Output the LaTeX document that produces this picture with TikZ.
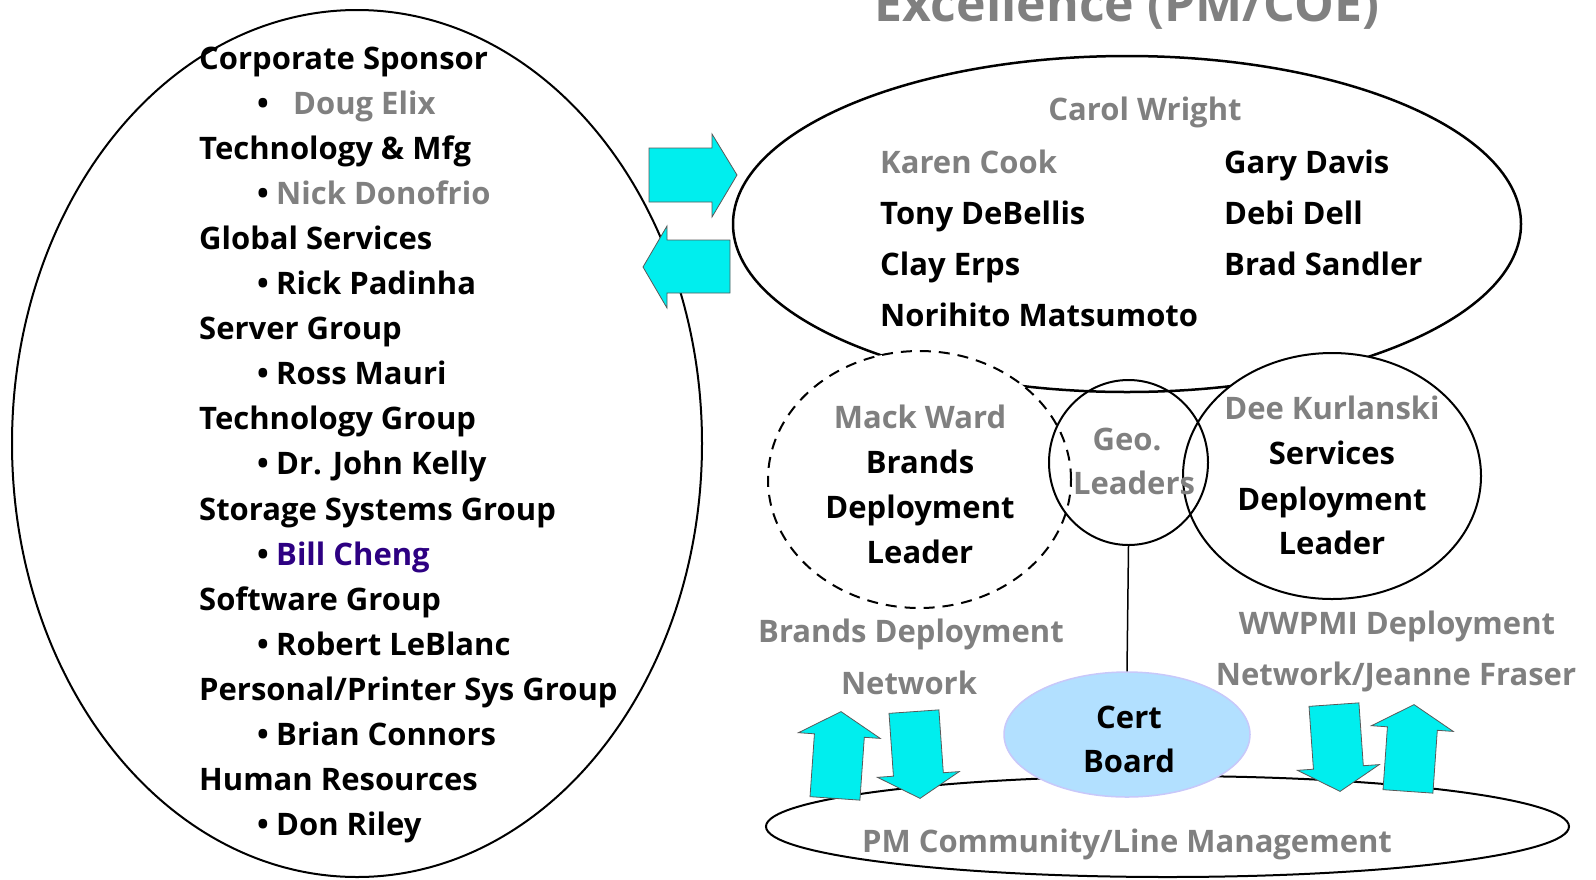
\documentclass[tikz,border=0pt]{standalone}
\usepackage{fontspec}
\usetikzlibrary{shapes.geometric}
\newfontfamily\cfont{Open Sans}
\definecolor{gry}{RGB}{128,128,128}
\definecolor{billc}{RGB}{45,0,130}
\definecolor{cy}{RGB}{0,238,238}
\definecolor{certfill}{RGB}{178,224,255}
\definecolor{certline}{RGB}{200,200,250}
\begin{document}
\begin{tikzpicture}[x=1pt,y=-1pt,
  lbl/.style={font=\cfont\bfseries\fontsize{31}{36}\selectfont, inner sep=0pt},
  lw/.style={lbl,anchor=base west},
  cc/.style={lbl,anchor=base},
  bul/.style={lbl,anchor=base},
  ell/.style={ellipse, draw, inner sep=0pt, line width=2pt},
  arr/.style={fill=cy, draw=black!65, line width=0.8pt, line join=miter},
  uparr/.pic={\path[arr] (0,-43.5) -- (41,-19.5) -- (25,-19.5) -- (25,43.5) -- (-25,43.5) -- (-25,-19.5) -- (-41,-19.5) -- cycle;},
  dnarr/.pic={\path[arr] (0,43.5) -- (41,19.5) -- (25,19.5) -- (25,-43.5) -- (-25,-43.5) -- (-25,19.5) -- (-41,19.5) -- cycle;}
]
\useasboundingbox (0,0) rectangle (1596,879);

% ---- shapes ----
\node[ell, minimum width=690pt, minimum height=867pt] (sponsor) at (357,443.5) {};
\node[ell, line width=2.5pt, minimum width=788pt, minimum height=336pt] (coe) at (1127,224) {};
\node[ell, dash pattern=on 11pt off 8pt, fill=white, minimum width=303pt, minimum height=257pt] (brands) at (919.5,479.5) {};
\node[ell, fill=white, minimum width=298pt, minimum height=246pt] (services) at (1332,476) {};
\node[ell, minimum width=159pt, minimum height=165pt] (geo) at (1128.5,462.5) {};
\node[ell, minimum width=803pt, minimum height=101pt] (pmc) at (1167.5,826.5) {};
\node[ellipse, inner sep=0pt, fill=certfill, draw=certline, line width=1.5pt, minimum width=246pt, minimum height=125pt] (cert) at (1127,734.5) {};
\draw[line width=1.5pt] (geo.south) -- (cert.north);

% ---- top cyan arrows ----
\path[arr] (649,148) -- (712,148) -- (712,134) -- (737,175) -- (712,217) -- (712,202) -- (649,202) -- cycle;
\path[arr] (730,240) -- (667,240) -- (667,226) -- (643,267) -- (667,308) -- (667,293) -- (730,293) -- cycle;

% ---- bottom cyan arrows ----
\pic[rotate=-4] at (838,755) {uparr};
\pic[rotate=4] at (917,755) {dnarr};
\pic[rotate=4] at (1337,748) {dnarr};
\pic[rotate=-4] at (1411,748) {uparr};

% ---- title ----
\node[font=\cfont\bfseries\fontsize{50}{56}\selectfont, text=gry, anchor=base, inner sep=0pt] (title) at (1127,21) {Excellence (PM/COE)};

% ---- left column ----
\node[lw] (h1) at (199,69) {Corporate Sponsor};
\node[bul] (b1) at (263,114.1) {•};
\node[lw, text=gry] (n1) at (293,114.1) {Doug Elix};
\node[lw] (h2) at (199,159.2) {Technology \& Mfg};
\node[bul] (b2) at (263,204.3) {•};
\node[lw, text=gry] (n2) at (276,204.3) {Nick Donofrio};
\node[lw] (h3) at (199,249.4) {Global Services};
\node[bul] (b3) at (263,294.5) {•};
\node[lw] (n3) at (276,294.5) {Rick Padinha};
\node[lw] (h4) at (199,339.6) {Server Group};
\node[bul] (b4) at (263,384.7) {•};
\node[lw] (n4) at (276,384.7) {Ross Mauri};
\node[lw] (h5) at (199,429.8) {Technology Group};
\node[bul] (b5) at (263,474.9) {•};
\node[lw] (n5) at (276,474.9) {Dr. John Kelly};
\node[lw] (h6) at (199,520) {Storage Systems Group};
\node[bul] (b6) at (263,565.1) {•};
\node[lw, text=billc] (n6) at (276,565.1) {Bill Cheng};
\node[lw] (h7) at (199,610.2) {Software Group};
\node[bul] (b7) at (263,655.3) {•};
\node[lw] (n7) at (276,655.3) {Robert LeBlanc};
\node[lw] (h8) at (199,700.4) {Personal/Printer Sys Group};
\node[bul] (b8) at (263,745.5) {•};
\node[lw] (n8) at (276,745.5) {Brian Connors};
\node[lw] (h9) at (199,790.6) {Human Resources};
\node[bul] (b9) at (263,835.7) {•};
\node[lw] (n9) at (276,835.7) {Don Riley};

% ---- COE ellipse ----
\node[cc, text=gry] (carol) at (1145,120) {Carol Wright};
\node[lw, text=gry] (karen) at (880,173) {Karen Cook};
\node[lw] (tony) at (880,224) {Tony DeBellis};
\node[lw] (clay) at (880,275) {Clay Erps};
\node[lw] (nori) at (880,326) {Norihito Matsumoto};
\node[lw] (gary) at (1224,173) {Gary Davis};
\node[lw] (debi) at (1224,224) {Debi Dell};
\node[lw] (brad) at (1224,275) {Brad Sandler};

% ---- brands ----
\node[cc, text=gry] (mack) at (920,428) {Mack Ward};
\node[cc] (br1) at (920,473) {Brands};
\node[cc] (br2) at (920,518) {Deployment};
\node[cc] (br3) at (920,563) {Leader};

% ---- geo ----
\node[cc, text=gry] (geo1) at (1127,450) {Geo.};
\node[cc, text=gry] (geo2) at (1134,494) {Leaders};

% ---- services ----
\node[cc, text=gry] (dee) at (1332,419) {Dee Kurlanski};
\node[cc] (sv1) at (1332,464) {Services};
\node[cc] (sv2) at (1332,510) {Deployment};
\node[cc] (sv3) at (1332,554) {Leader};

% ---- cert ----
\node[cc] (cert1) at (1129,728) {Cert};
\node[cc] (cert2) at (1129,772) {Board};

% ---- networks ----
\node[cc, text=gry] (bdn1) at (911,642) {Brands Deployment};
\node[cc, text=gry] (bdn2) at (909,694) {Network};
\node[cc, text=gry] (ww1) at (1397,634) {WWPMI Deployment};
\node[cc, text=gry] (ww2) at (1396,685) {Network/Jeanne Fraser};

\node[cc, text=gry] (pmtext) at (1127,852) {PM Community/Line Management};
\end{tikzpicture}
\end{document}
